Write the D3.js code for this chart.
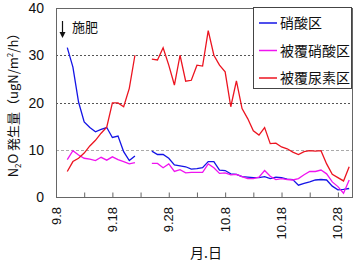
<!DOCTYPE html>
<html>
<head>
<meta charset="utf-8">
<script src="https://cdn.jsdelivr.net/npm/d3@7"></script>
<style>
  body { margin: 0; background: #fff; }
  text { font-family: "Liberation Sans", "Noto Sans CJK JP", sans-serif; fill: #111; }
  .jp { font-family: "Noto Sans CJK JP", sans-serif; }
</style>
</head>
<body>
<div id="chart"></div>
<script>
// days after 9.8 (day 2 = 9.10 ... day 52 = 10.30), nulls = no measurement
var days = d3.range(2, 53);
var tickDays = [0, 10, 20, 30, 40, 50];
var tickLabels = ["9.8", "9.18", "9.28", "10.8", "10.18", "10.28"];
var yTicks = [0, 10, 20, 30, 40];

var nitrate = [31.6, 27.5, 20.1, 15.9, 14.7, 13.8, 14.3, 14.7, 12.6, 12.9, 9.6, 7.7, 8.7,
  null, null,
  9.7, 9.0, 9.0, 8.2, 6.8, 6.6, 6.4, 5.9, 6.0, 6.2, 7.5, 7.5, 5.7, 5.6, 4.9, 4.8, 4.3, 4.2,
  4.1, 4.1, 4.3, 3.9, 4.2, 4.1, 3.8, 3.7, 2.5, 2.9, 3.2, 3.6, 3.7, 3.6, 2.3, 1.5, 1.6, 1.8];
var coatedNitrate = [7.9, 9.8, 8.9, 8.2, 8.0, 7.7, 8.4, 7.8, 8.5, 7.9, 7.5, 7.0, 7.3,
  null, null,
  7.1, 7.1, 6.2, 7.0, 5.4, 5.8, 5.1, 5.2, 5.2, 5.2, 7.0, 6.2, 5.0, 5.1, 4.7, 4.8, 4.3, 3.9,
  3.9, 4.2, 5.6, 4.4, 3.7, 3.9, 3.7, 3.6, 3.9, 4.7, 5.4, 5.4, 5.7, 4.9, 3.2, 2.2, 0.8, 3.6];
var coatedUrea = [5.4, 7.5, 8.2, 9.3, 10.8, 12.0, 13.5, 14.8, 19.9, 19.9, 19.1, 23.0, 30.0,
  null, null,
  29.2, 29.0, 31.6, 27.9, 23.7, 30.0, 24.5, 24.7, 27.9, 27.7, 35.2, 30.0, 27.9, 26.5, 19.1, 24.6, 18.7,
  16.6, 14.0, 13.1, 14.7, 11.3, 11.4, 10.6, 10.2, 9.5, 9.0, 9.6, 9.8, 9.7, 9.8, 7.0, 4.8, 4.1, 3.4, 6.4];

var seriesNames = ["硝酸区", "被覆硝酸区", "被覆尿素区"];
var seriesColors = ["#1414e6", "#f014f0", "#ec1420"];
var seriesValues = [nitrate, coatedNitrate, coatedUrea];

var width = 360, height = 262;
var margin = {left: 56, right: 8, top: 8, bottom: 65};

var svg = d3.select("#chart").append("svg")
  .attr("width", width)
  .attr("height", height);

var x = d3.scaleLinear().domain([0, 52.5]).range([margin.left, width - margin.right]);
var y = d3.scaleLinear().domain([0, 40]).range([height - margin.bottom, margin.top]);

// grid lines
svg.selectAll(".grid").data([10, 20, 30]).enter().append("line")
  .attr("x1", x(0)).attr("x2", x(52.5))
  .attr("y1", function(d) { return Math.round(y(d)) + 0.5; })
  .attr("y2", function(d) { return Math.round(y(d)) + 0.5; })
  .attr("stroke", function(d) { return d == 10 ? "#aaa" : "#555"; })
  .attr("stroke-dasharray", function(d) { return d == 10 ? "3,2" : "2,2"; });

// frame
svg.append("rect")
  .attr("x", x(0) + 0.5).attr("y", y(40) + 0.5)
  .attr("width", x(52.5) - x(0)).attr("height", y(0) - y(40))
  .attr("fill", "none").attr("stroke", "#666");

// y axis labels
svg.selectAll(".ylab").data(yTicks).enter().append("text")
  .attr("x", 44).attr("y", function(d) { return y(d) + 5; })
  .attr("text-anchor", "end").attr("font-size", 14)
  .text(function(d) { return d; });

// x axis ticks (inside) and labels
var xAxis = d3.axisBottom(x)
  .tickValues(d3.range(5, 51, 5))
  .tickSize(-5)
  .tickFormat("");
svg.append("g")
  .attr("transform", "translate(0," + (Math.round(y(0)) + 0.5) + ")")
  .call(xAxis)
  .call(function(g) { g.select(".domain").remove(); })
  .selectAll("line").attr("stroke", "#666");

svg.selectAll(".xlab").data(tickDays).enter().append("text")
  .attr("transform", function(d) { return "translate(" + (x(d) + 4.5) + ",207) rotate(-90)"; })
  .attr("text-anchor", "end").attr("font-size", 13)
  .text(function(d, i) { return tickLabels[i]; });

// lines
var line = d3.line()
  .defined(function(d) { return d.v != null; })
  .x(function(d) { return x(d.day); })
  .y(function(d) { return y(d.v); });

seriesValues.forEach(function(vals, i) {
  var pts = days.map(function(day, j) { return {day: day, v: vals[j]}; });
  svg.append("path")
    .datum(pts)
    .attr("d", line)
    .attr("fill", "none")
    .attr("stroke", seriesColors[i])
    .attr("stroke-width", 1.3);
});

// fertilizer arrow
svg.append("line")
  .attr("x1", 62.5).attr("x2", 62.5).attr("y1", 21).attr("y2", 36)
  .attr("stroke", "#111").attr("stroke-width", 1.2);
svg.append("path")
  .attr("d", "M59.5,32 L62.5,38 L65.5,32 Z")
  .attr("fill", "#111");
svg.append("text").attr("class", "jp")
  .attr("x", 72).attr("y", 32).attr("font-size", 13)
  .text("施肥");

// legend
var lg = svg.append("g");
lg.append("rect")
  .attr("x", 253.5).attr("y", 7.5).attr("width", 98).attr("height", 81)
  .attr("fill", "#fff").attr("stroke", "#444");
seriesNames.forEach(function(name, i) {
  var ly = 23 + i * 27.5;
  lg.append("line")
    .attr("x1", 259).attr("x2", 277).attr("y1", ly).attr("y2", ly)
    .attr("stroke", seriesColors[i]).attr("stroke-width", 1.5);
  lg.append("text").attr("class", "jp")
    .attr("x", 280).attr("y", ly + 5).attr("font-size", 14)
    .text(name);
});

// y axis title
var yt = svg.append("text").attr("class", "jp")
  .attr("transform", "translate(18,102) rotate(-90)")
  .attr("text-anchor", "middle").attr("font-size", 13);
yt.append("tspan").text("N");
yt.append("tspan").attr("font-size", 8).attr("dy", 3).text("2");
yt.append("tspan").attr("dy", -3).text("O 発生量（ugN/m");
yt.append("tspan").attr("font-size", 8).attr("dy", -5).text("2");
yt.append("tspan").attr("dy", 5).text("/h）");

// x axis title
svg.append("text").attr("class", "jp")
  .attr("x", 190).attr("y", 258).attr("font-size", 14)
  .text("月.日");
</script>
</body>
</html>
